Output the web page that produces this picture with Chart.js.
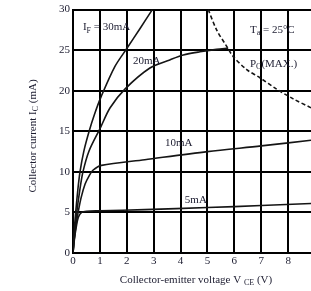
<!DOCTYPE html>
<html>
<head>
<meta charset="utf-8">
<script src="https://cdn.jsdelivr.net/npm/chart.js@4"></script>
<style>
  html, body { margin: 0; padding: 0; background: #fff; }
  #wrap { width: 311px; height: 291px; position: relative; }
</style>
</head>
<body>
<div id="wrap"><canvas id="myChart"></canvas></div>
<script>
// Collector current vs collector-emitter voltage, one curve per forward current
const vce30 = [0, 0.04, 0.1, 0.18, 0.26, 0.4, 0.6, 0.8, 1.05, 1.56, 2.0, 2.5, 2.95];
const ic30  = [0, 2.5, 5, 7.8, 10, 12.5, 15, 17.1, 19.3, 23.0, 25.2, 27.7, 30];

const vce20 = [0, 0.05, 0.14, 0.25, 0.37, 0.6, 1.0, 1.38, 1.93, 2.86, 3.6, 4.1, 4.72, 5.34, 5.77];
const ic20  = [0, 2, 5, 7.7, 10, 12.6, 15.3, 17.9, 20.2, 22.8, 23.8, 24.4, 24.8, 25.1, 25.25];

const vce10 = [0, 0.05, 0.12, 0.19, 0.3, 0.45, 0.6, 0.74, 1.06, 2.67, 5.0, 7.0, 8.85];
const ic10  = [0, 1.8, 3.6, 5, 6.8, 8.5, 9.5, 10.2, 10.8, 11.5, 12.5, 13.2, 13.9];

const vce5 = [0, 0.05, 0.12, 0.2, 0.32, 0.5, 1.0, 2.67, 5.0, 7.0, 8.85];
const ic5  = [0, 1.6, 3.2, 4.4, 5.0, 5.15, 5.2, 5.35, 5.6, 5.85, 6.1];

// Pc(MAX.) limit
const vcePc = [5.03, 5.34, 5.71, 5.96, 6.46, 6.95, 7.57, 8.19, 8.85];
const icPc  = [30, 27.5, 25.5, 24.2, 22.6, 21.6, 20.2, 19.0, 17.9];

const xMin = 0, xMax = 8.85, xStep = 1;
const yMin = 0, yMax = 30, yStep = 5;

const serif = "'Liberation Serif', 'DejaVu Serif', serif";
const textColor = '#1c1c30';

function toPoints(xs, ys) {
    return xs.map((x, i) => ({ x: x, y: ys[i] }));
}

function curve(xs, ys, dashed) {
    return {
        data: toPoints(xs, ys),
        showLine: true,
        pointRadius: 0,
        borderColor: '#151515',
        borderWidth: 1.6,
        borderDash: dashed ? [4, 2.5] : [],
        tension: 0.3,
        fill: false
    };
}

// Draw a run of text pieces, some of them as subscripts
function drawRuns(ctx, runs, x, y, align) {
    const big = '11px ' + serif;
    const small = '8px ' + serif;
    let total = 0;
    runs.forEach(r => {
        ctx.font = r.sub ? small : big;
        total += ctx.measureText(r.t).width;
    });
    let cx = align === 'center' ? x - total / 2 : x;
    runs.forEach(r => {
        ctx.font = r.sub ? small : big;
        ctx.fillText(r.t, cx, y + (r.sub ? 3 : 0));
        cx += ctx.measureText(r.t).width;
    });
}

const labelsPlugin = {
    id: 'labels',
    afterDraw(chart) {
        const ctx = chart.ctx;
        const xs = chart.scales.x, ys = chart.scales.y;
        const px = v => xs.getPixelForValue(v);
        const py = v => ys.getPixelForValue(v);
        ctx.save();
        ctx.fillStyle = textColor;
        ctx.textBaseline = 'middle';
        ctx.textAlign = 'left';

        // curve labels, in data coordinates
        drawRuns(ctx, [{ t: 'I' }, { t: 'F', sub: true }, { t: ' = 30mA' }], px(0.37), py(27.8));
        drawRuns(ctx, [{ t: '20mA' }], px(2.23), py(23.7));
        drawRuns(ctx, [{ t: '10mA' }], px(3.42), py(13.5));
        drawRuns(ctx, [{ t: '5mA' }], px(4.16), py(6.5));
        drawRuns(ctx, [{ t: 'T' }, { t: 'a', sub: true }, { t: ' = 25°C' }], px(6.58), py(27.5));
        drawRuns(ctx, [{ t: 'P' }, { t: 'C', sub: true }, { t: '(MAX.)' }], px(6.58), py(23.3));

        // axis titles
        drawRuns(ctx, [{ t: 'Collector-emitter voltage V ' }, { t: 'CE', sub: true }, { t: ' (V)' }],
            196, 280, 'center');
        ctx.translate(33, 136);
        ctx.rotate(-Math.PI / 2);
        drawRuns(ctx, [{ t: 'Collector current I' }, { t: 'C', sub: true }, { t: ' (mA)' }], 0, 0, 'center');
        ctx.restore();
    }
};

const gridStyle = { color: '#000', lineWidth: 2, drawTicks: false };
const tickFont = { family: serif, size: 11 };

new Chart(document.getElementById('myChart').getContext('2d'), {
    type: 'scatter',
    data: {
        datasets: [
            curve(vce30, ic30),
            curve(vce20, ic20),
            curve(vce10, ic10),
            curve(vce5, ic5),
            curve(vcePc, icPc, true)
        ]
    },
    options: {
        responsive: true,
        maintainAspectRatio: false,
        animation: false,
        layout: { padding: { top: 8, right: 0, left: 0, bottom: 0 } },
        plugins: {
            legend: { display: false },
            tooltip: { enabled: false }
        },
        scales: {
            x: {
                type: 'linear',
                min: xMin,
                max: xMax,
                grid: gridStyle,
                border: { display: true, color: '#000', width: 2 },
                ticks: { stepSize: xStep, includeBounds: false, font: tickFont, color: textColor, padding: 2, maxRotation: 0 },
                afterFit: scale => { scale.height = 38; }
            },
            y: {
                min: yMin,
                max: yMax,
                grid: gridStyle,
                border: { display: true, color: '#000', width: 2 },
                ticks: { stepSize: yStep, font: tickFont, color: textColor, padding: 3 },
                afterFit: scale => { scale.width = 73; }
            }
        }
    },
    plugins: [labelsPlugin]
});
</script>
</body>
</html>
